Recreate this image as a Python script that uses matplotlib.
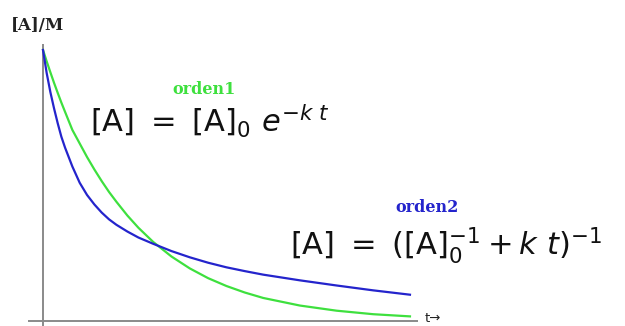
import matplotlib.pyplot as plt

# values (t in arbitrary units, [A] relative to [A]0)
t = [0, 0.1, 0.2, 0.3, 0.4, 0.5, 0.6, 0.8, 1.0, 1.2, 1.4, 1.6, 1.8, 2.0,
     2.3, 2.6, 3.0, 3.5, 4.0, 4.5, 5.0, 5.5, 6.0, 7.0, 8.0, 9.0, 10.0]
orden1 = [1.0, 0.958, 0.918, 0.879, 0.842, 0.806, 0.772, 0.705, 0.655, 0.605,
          0.559, 0.516, 0.476, 0.44, 0.389, 0.344, 0.292, 0.238, 0.194,
          0.158, 0.129, 0.105, 0.085, 0.057, 0.038, 0.025, 0.017]
orden2 = [1.0, 0.915, 0.845, 0.785, 0.73, 0.68, 0.64, 0.57, 0.51, 0.465,
          0.43, 0.40, 0.375, 0.355, 0.33, 0.308, 0.285, 0.258, 0.235,
          0.215, 0.198, 0.184, 0.171, 0.15, 0.131, 0.113, 0.097]

GREEN = '#3ee03e'
BLUE = '#2424cc'
AXIS = '#8a8a8a'


def main():
    plt.rcParams['mathtext.fontset'] = 'dejavusans'
    fig = plt.figure(figsize=(6.25, 3.26), dpi=100)
    ax = fig.add_axes([0, 0, 1, 1])
    ax.set_xlim(-1.172, 15.86)
    ax.set_ylim(-0.0185, 1.1845)
    ax.axis('off')

    # hand drawn style axes
    ax.plot([-0.41, 10.22], [0, 0], color=AXIS, lw=1.4, solid_capstyle='butt')
    ax.plot([0, 0], [-0.0185, 1.022], color=AXIS, lw=1.4, solid_capstyle='butt')

    ax.plot(t, orden1, color=GREEN, lw=1.6)
    ax.plot(t, orden2, color=BLUE, lw=1.6)

    ax.text(11 / 625, 1 - 26 / 326, '[A]/M', transform=ax.transAxes,
            family='DejaVu Serif', fontweight='bold', fontsize=12,
            color='#222222', va='center', ha='left')
    ax.text(433 / 625, 1 - 312 / 326, 't→', transform=ax.transAxes,
            fontsize=9.5, color='#222222', va='top', ha='center')

    ax.text(204 / 625, 1 - 89 / 326, 'orden1', transform=ax.transAxes,
            family='DejaVu Serif', fontweight='bold', fontsize=11.5,
            color=GREEN, va='center', ha='center')
    ax.text(90 / 625, 1 - 121 / 326,
            r'$\mathrm{[A]}\ =\ \mathrm{[A]}_0\ e^{-k\ t}$',
            transform=ax.transAxes, fontsize=22, color='#111111',
            va='center', ha='left')

    ax.text(427 / 625, 1 - 207 / 326, 'orden2', transform=ax.transAxes,
            family='DejaVu Serif', fontweight='bold', fontsize=11.5,
            color=BLUE, va='center', ha='center')
    ax.text(290 / 625, 1 - 246 / 326,
            r'$\mathrm{[A]}\ =\ (\mathrm{[A]}_0^{-1} + k\ t)^{-1}$',
            transform=ax.transAxes, fontsize=22, color='#111111',
            va='center', ha='left')

    plt.savefig('out.png', dpi=100)


if __name__ == '__main__':
    main()
